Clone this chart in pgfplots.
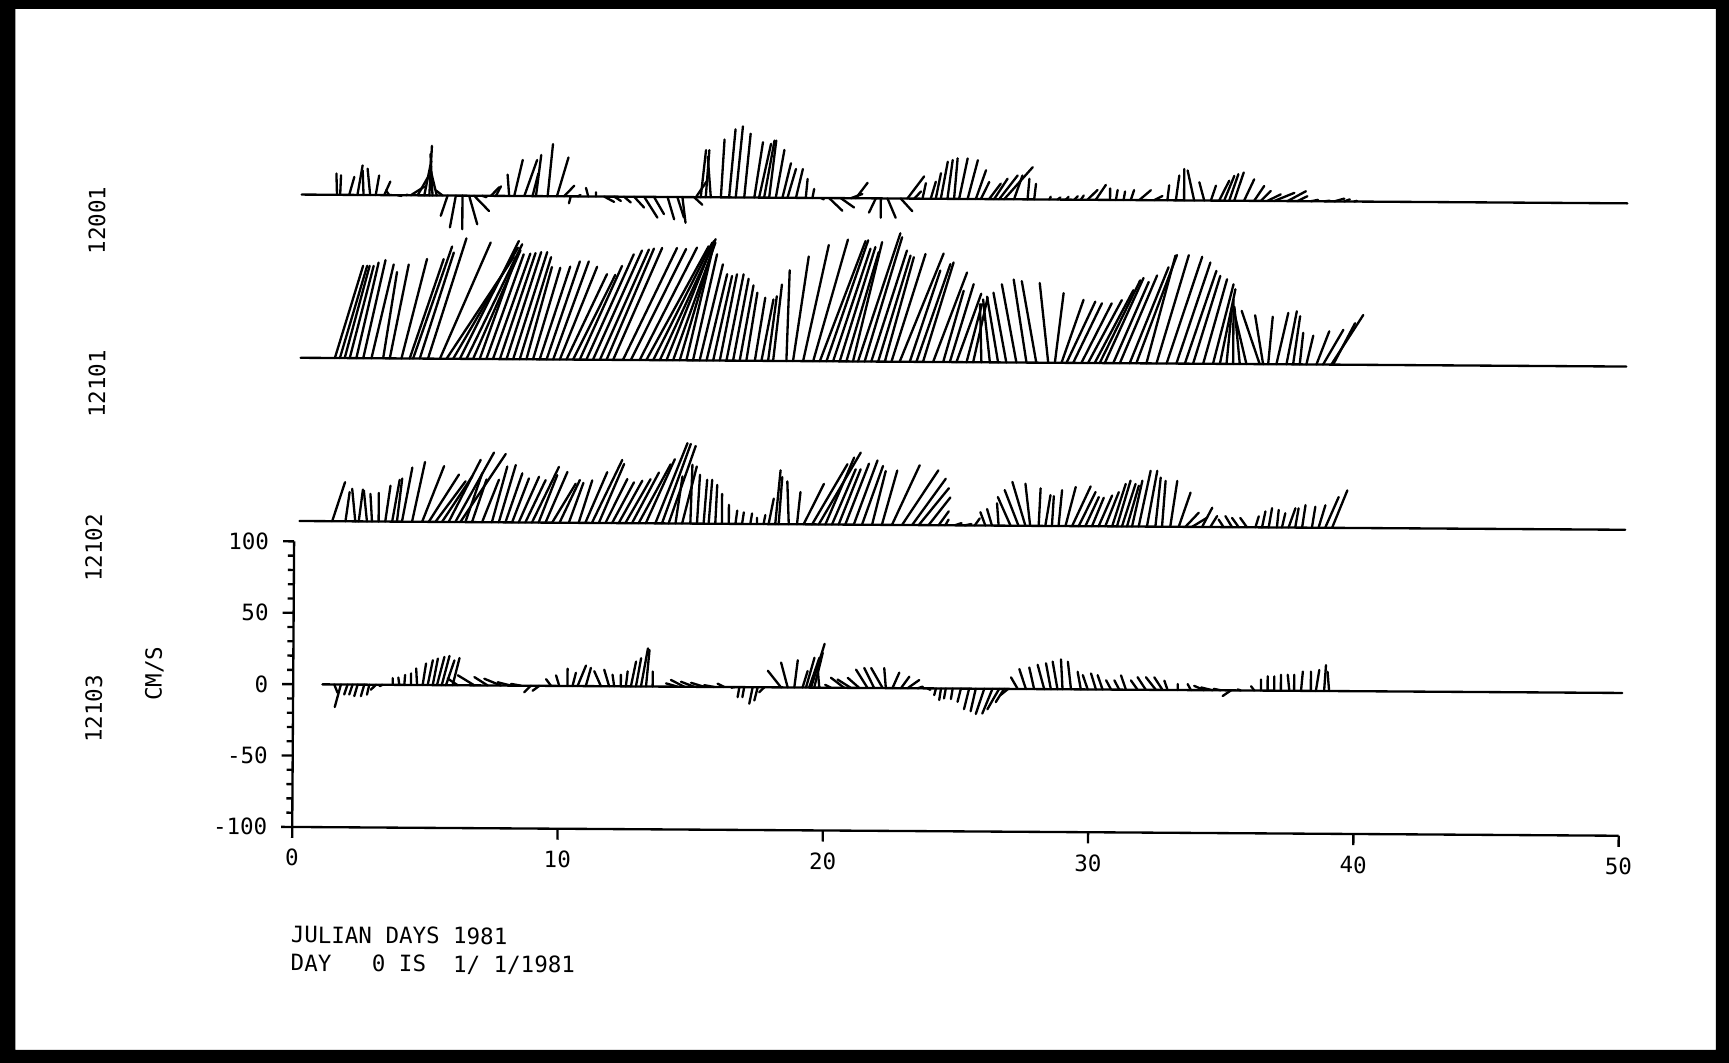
\documentclass[border=0pt]{standalone}
\usepackage{pgfplots}
\pgfplotsset{compat=1.18}
\usepackage{pgfplotstable}
\usepackage{fontspec}
\newfontfamily\plotfont{DejaVu Sans Mono}
\newcommand\pf{\plotfont\fontsize{5.8}{7}\selectfont}

% station 12001 : t (day), u (cm/s east), v (cm/s north)
\pgfplotstableread{
t u v
1.53 -0.5 14.9
1.65 0.5 13.7
1.99 3.5 12.6
2.30 3.5 20.7
2.53 -0.7 17.2
2.78 -1.9 18.4
2.99 2.3 13.7
3.31 4.2 9.5
3.50 -2.3 3.3
3.81 2.8 -0.5
4.13 1.0 0.5
4.31 9.3 6.0
4.57 7.0 12.6
4.82 4.7 24.0
5.01 1.6 34.7
5.13 -1.6 29.0
5.29 -4.2 17.0
5.51 -4.7 3.5
5.70 -4.7 -14.2
6.01 -4.0 -22.3
6.26 0.0 -23.5
6.51 5.8 -20.0
6.70 10.5 -10.7
7.00 3.0 -1.0
7.33 5.8 6.0
7.52 3.5 6.7
8.02 -1.2 14.9
8.21 5.8 25.3
8.59 8.8 25.3
8.90 4.0 16.0
9.03 3.5 28.8
9.47 3.5 36.5
9.82 7.9 27.2
10.09 7.0 7.4
10.34 -1.2 -4.9
10.60 2.0 1.0
11.00 -1.6 6.0
11.29 0.0 3.0
11.60 7.0 -3.7
11.98 4.7 -3.0
12.35 4.7 -4.0
12.73 7.0 -7.5
13.11 9.3 -14.5
13.48 7.0 -12.0
13.99 4.7 -15.6
14.36 4.7 -14.4
14.55 2.3 -18.0
14.99 5.8 -5.3
15.06 8.0 12.0
15.24 3.5 33.0
15.43 2.3 33.0
15.62 -2.3 28.4
16.00 2.3 40.5
16.31 4.2 47.7
16.56 4.7 49.8
16.88 4.2 44.7
17.26 5.8 38.8
17.44 8.1 37.7
17.63 7.0 40.0
17.82 4.7 40.0
18.07 5.8 33.5
18.32 5.8 24.2
18.51 5.8 20.2
18.83 4.7 20.2
19.20 1.2 13.3
19.45 1.2 6.3
19.77 2.0 -1.0
20.08 9.3 -8.8
20.52 9.3 -6.5
20.90 8.0 3.0
21.09 8.1 10.9
21.84 -4.7 -10.0
22.03 0.0 -13.5
22.28 5.8 -13.5
22.78 8.1 -8.8
23.03 11.6 15.6
23.29 4.7 5.1
23.60 2.3 10.9
23.91 3.5 12.0
24.10 3.5 17.9
24.29 4.7 26.0
24.54 3.5 27.2
24.79 2.3 28.4
24.98 5.8 28.4
25.30 7.0 27.2
25.61 7.0 20.2
25.80 5.8 12.0
26.11 8.1 10.9
26.30 9.3 14.4
26.49 12.8 16.7
26.68 19.8 22.6
27.05 5.8 16.7
27.56 1.2 14.4
27.81 1.2 10.9
28.38 1.0 2.0
28.69 2.0 1.5
29.00 2.0 2.0
29.32 2.5 2.5
29.57 2.0 3.0
29.82 7.0 7.0
30.13 7.0 10.5
30.67 0.0 8.0
30.89 1.2 7.0
31.18 1.0 6.0
31.45 2.3 7.0
31.77 8.1 7.0
32.33 5.8 3.0
32.83 1.2 10.5
33.15 2.3 17.4
33.46 0.0 22.0
33.84 -4.7 21.0
34.22 -3.5 12.8
34.47 3.5 10.5
34.78 7.0 14.0
34.97 7.0 17.4
35.16 6.3 18.6
35.35 6.5 19.8
35.72 7.0 15.1
36.10 7.0 10.5
36.35 7.0 7.0
36.60 9.3 4.7
36.86 14.0 5.8
37.36 12.8 7.0
37.73 7.0 3.5
38.24 5.0 1.0
38.74 4.0 0.5
39.12 7.0 2.0
39.49 4.0 1.5
39.87 2.0 0.5
}\sA

% station 12101
\pgfplotstableread{
t u v
1.49 19.3 64.7
1.68 18.6 64.7
1.86 17.0 64.7
2.05 16.3 64.7
2.30 15.1 67.0
2.56 15.1 68.8
2.87 15.1 65.8
3.31 9.3 60.5
3.56 12.8 65.8
4.00 17.4 69.8
4.31 23.3 69.8
4.44 26.7 78.6
4.69 23.3 74.4
5.00 26.3 84.4
5.45 34.9 81.6
5.70 46.5 71.6
5.95 44.7 78.1
6.20 40.7 82.8
6.45 38.4 80.5
6.70 32.6 76.3
6.95 25.1 71.6
7.20 25.6 73.5
7.45 25.6 74.0
7.71 24.4 74.4
7.96 23.7 75.1
8.21 23.3 75.1
8.46 21.4 71.6
8.71 17.4 64.7
8.96 18.6 64.2
9.21 20.9 65.1
9.47 22.8 68.8
9.72 24.4 68.8
9.97 25.6 65.1
10.22 27.9 60.0
10.47 29.1 59.5
10.72 29.1 65.8
10.97 32.6 74.0
11.22 33.7 76.7
11.48 33.7 77.4
11.73 32.6 78.1
11.98 33.7 78.6
12.35 37.2 78.6
12.65 38.0 78.0
12.98 39.5 79.0
13.23 43.0 80.0
13.49 40.7 82.6
13.74 38.4 85.0
13.99 32.6 83.7
14.24 29.0 82.6
14.49 22.8 79.0
14.74 18.6 81.4
14.99 16.3 74.4
15.24 15.8 67.4
15.50 14.0 60.5
15.75 12.8 59.3
16.00 11.6 60.5
16.25 11.6 60.5
16.50 10.5 57.4
16.75 9.3 52.8
17.00 7.4 47.7
17.32 7.0 44.2
17.57 8.1 43.0
17.82 5.8 45.3
18.01 5.8 53.5
18.51 1.9 63.5
18.76 10.5 73.3
19.14 17.4 81.4
19.52 23.7 85.3
19.77 31.4 84.4
20.02 28.6 84.9
20.27 25.6 79.0
20.52 24.4 80.2
20.77 22.1 76.7
21.02 19.8 83.7
21.21 29.0 90.0
21.46 25.6 87.2
21.71 24.4 77.9
21.97 22.1 74.4
22.22 19.8 73.3
22.47 23.3 75.6
22.78 30.2 76.0
23.16 20.9 64.0
23.41 23.3 68.6
23.66 20.9 69.8
24.04 23.3 62.8
24.42 14.0 50.0
24.67 16.3 54.7
24.92 17.0 48.0
25.30 10.5 40.7
25.55 9.8 45.3
25.86 -1.2 40.7
26.18 -5.0 44.0
26.49 -8.0 46.0
26.80 -9.3 48.8
27.18 -10.5 54.7
27.56 -9.3 58.1
27.93 -10.5 57.0
28.38 -6.3 55.8
28.63 5.8 48.8
28.88 15.1 44.2
29.07 19.8 43.0
29.32 19.8 41.9
29.63 20.9 41.9
29.88 23.3 44.2
30.13 26.7 51.2
30.32 27.9 58.1
30.51 26.7 59.8
30.83 24.4 57.0
31.08 25.6 61.6
31.45 26.7 67.4
31.70 27.9 76.0
32.08 19.8 75.6
32.46 22.1 76.0
32.84 24.4 74.9
33.21 23.3 70.9
33.53 21.6 65.1
33.84 18.6 61.6
34.22 16.3 59.3
34.59 14.0 55.8
34.85 10.5 52.3
35.10 3.5 38.4
35.35 0.0 45.0
35.60 -4.0 40.0
35.85 -9.3 38.4
36.35 -12.8 37.2
36.48 -5.8 34.2
36.67 3.0 33.3
36.98 8.1 36.0
37.36 7.0 37.2
37.61 4.7 33.7
37.86 2.3 22.1
38.11 4.7 20.2
38.49 8.8 23.3
38.74 14.0 24.4
39.05 22.1 34.9
39.12 15.1 29.1
}\sB

% station 12102
\pgfplotstableread{
t u v
1.43 8.8 27.4
1.93 2.8 20.5
2.30 -2.3 22.8
2.43 2.8 22.3
2.74 -2.3 21.6
2.93 -1.2 19.3
3.18 0.0 20.0
3.43 3.5 25.1
3.69 5.1 29.3
3.87 3.5 30.2
4.06 7.0 37.9
4.44 8.8 41.9
4.82 15.1 39.1
5.07 20.9 33.3
5.32 20.9 28.6
5.57 20.9 32.1
5.82 22.1 43.7
6.07 26.7 48.8
6.26 31.4 47.9
6.45 11.6 34.4
6.70 10.0 30.0
7.08 11.6 29.8
7.45 10.5 39.1
7.71 11.6 40.2
7.96 11.6 34.4
8.21 11.6 30.9
8.46 14.0 32.1
8.71 14.0 29.8
8.96 18.6 39.1
9.21 12.8 33.3
9.47 15.1 35.6
9.72 16.3 27.4
10.00 14.0 30.0
10.35 10.0 28.0
10.72 9.3 29.8
10.97 15.1 35.6
11.22 20.9 44.2
11.48 17.4 41.4
11.73 15.1 30.9
11.98 15.1 28.6
12.23 16.3 29.8
12.48 17.4 30.9
12.73 18.6 35.6
12.98 22.1 41.4
13.25 20.0 45.0
13.61 22.1 56.3
13.86 19.8 55.8
14.11 18.6 54.4
14.37 4.7 33.0
14.62 10.0 40.0
14.93 1.2 41.2
15.18 1.9 34.2
15.43 2.3 30.7
15.62 2.3 30.7
15.87 1.2 27.2
16.12 0.0 20.9
16.38 0.0 13.3
16.63 1.2 9.3
16.88 1.2 8.1
17.19 1.2 7.4
17.44 0.0 4.4
17.69 1.2 6.3
17.88 3.5 17.9
18.13 3.5 37.7
18.26 2.3 33.0
18.64 -1.2 30.0
18.95 2.3 22.6
19.20 14.0 28.4
19.52 24.4 42.3
19.77 29.0 50.5
20.02 19.8 47.0
20.27 16.3 38.8
20.52 15.1 38.8
20.77 16.3 42.8
21.09 16.3 45.1
21.40 14.4 41.2
21.78 9.3 37.7
22.15 10.5 38.1
22.53 19.1 41.9
22.91 25.1 38.4
23.29 23.3 32.6
23.54 20.9 26.0
23.91 15.1 19.5
24.29 7.0 9.8
24.54 2.3 4.0
24.90 4.7 1.6
25.27 4.7 1.0
25.65 3.5 5.0
26.05 -3.5 9.3
26.30 -3.5 11.6
26.55 -1.2 15.6
27.00 -9.0 20.0
27.30 -9.8 24.9
27.56 -9.3 30.7
27.74 -3.5 29.5
28.06 1.2 26.3
28.31 3.5 21.6
28.56 1.2 20.9
28.81 2.3 25.1
29.07 7.0 27.4
29.32 12.8 27.9
29.57 11.6 24.0
29.82 9.3 20.5
30.07 8.1 20.0
30.32 9.3 21.6
30.57 9.3 24.0
30.83 9.3 29.8
31.01 9.3 32.1
31.20 9.3 29.8
31.39 8.1 28.6
31.58 7.0 32.1
31.83 8.1 39.1
32.14 7.0 39.1
32.46 3.5 34.4
32.71 2.3 32.1
33.02 4.7 32.1
33.34 8.1 24.0
33.59 9.3 10.0
33.84 10.5 6.5
34.22 7.0 13.5
34.53 4.7 7.7
35.03 -3.5 5.3
35.35 -4.7 7.7
35.60 -4.7 6.5
35.91 -4.7 6.5
36.23 2.3 7.7
36.48 2.3 11.2
36.73 2.3 13.5
37.04 1.2 12.3
37.23 2.3 10.0
37.48 4.7 13.5
37.73 2.3 13.5
37.99 2.3 15.8
38.36 2.3 14.7
38.61 4.7 15.8
38.86 9.3 21.6
39.12 10.5 26.3
}\sC

% station 12103
\pgfplotstableread{
t u v
1.55 2.3 -5.8
1.80 -4.2 -15.8
2.05 -2.3 -7.0
2.24 -2.3 -7.0
2.43 -2.3 -8.1
2.68 -2.3 -8.1
2.87 -1.6 -7.0
3.12 -3.5 -3.5
3.37 -2.0 -1.0
3.75 0.0 4.7
4.00 -0.7 5.1
4.19 0.5 7.0
4.44 0.0 8.1
4.67 -0.7 11.6
4.88 2.3 15.1
5.07 3.5 17.4
5.26 3.5 18.6
5.42 5.1 19.8
5.60 5.3 20.5
5.76 5.8 17.4
6.01 4.7 19.1
6.20 -7.0 4.7
6.83 -11.6 7.0
7.33 -9.3 5.8
7.83 -11.6 4.7
8.21 -9.3 2.3
8.59 -7.0 1.2
8.96 -4.7 -4.7
9.28 -4.7 -3.5
9.72 -3.5 4.7
10.03 -2.3 7.4
10.34 0.0 12.1
10.53 2.3 9.3
10.72 5.8 14.4
11.03 3.5 12.8
11.60 -4.7 10.5
11.91 -3.5 11.6
12.10 -1.2 8.1
12.35 0.0 8.1
12.54 1.2 10.5
12.73 3.5 17.4
12.92 3.5 19.8
13.11 4.7 26.7
13.30 2.3 25.6
13.55 0.0 10.5
14.49 -8.1 2.3
14.74 -9.3 4.7
15.12 -9.3 3.5
15.50 -9.3 2.8
15.87 -7.0 1.2
16.25 -4.7 2.3
16.63 -2.0 -0.5
16.82 -1.2 -7.0
17.00 -1.2 -7.0
17.32 -2.3 -11.6
17.51 -2.3 -9.3
17.76 -3.5 -3.5
18.39 -9.3 11.6
18.64 -4.7 17.4
18.89 2.3 19.1
19.20 3.5 11.6
19.33 5.8 20.9
19.45 7.0 20.9
19.52 9.3 30.7
19.64 5.8 24.4
19.83 -1.2 14.0
20.27 -4.0 2.0
20.77 -9.3 7.0
21.02 -9.3 5.8
21.34 -8.1 7.0
21.65 -8.1 12.8
21.90 -7.0 14.0
22.22 -8.1 14.0
22.34 -1.2 14.0
22.59 4.7 10.9
22.91 5.8 8.1
23.16 8.1 5.8
23.54 3.5 1.2
23.91 2.0 -1.0
24.23 -1.2 -4.7
24.42 -1.2 -8.1
24.60 -1.2 -7.0
24.86 -1.2 -7.4
25.17 -2.3 -9.3
25.48 -3.5 -14.4
25.73 -3.5 -15.8
26.05 -5.8 -17.7
26.36 -7.0 -17.4
26.61 -8.1 -14.4
26.80 -5.8 -9.3
26.95 -5.1 -4.2
27.31 -4.7 8.1
27.62 -4.7 14.0
27.93 -3.5 15.1
28.31 -4.7 17.0
28.56 -3.5 18.1
28.81 -3.5 19.3
29.00 -1.2 20.9
29.32 -2.3 19.3
29.69 -2.3 12.3
29.95 -3.5 10.0
30.26 -3.5 11.2
30.51 -3.5 10.0
30.83 -3.5 6.5
31.14 -3.5 6.5
31.39 -3.5 10.0
31.83 -4.7 6.5
32.14 -5.8 8.8
32.52 -7.0 8.8
32.77 -5.8 8.8
32.96 -2.3 6.5
33.34 0.0 4.2
33.84 -2.3 4.2
34.34 -7.0 3.0
34.66 -8.1 1.9
34.97 -5.0 1.0
35.35 -5.8 -4.0
35.72 -2.3 0.7
36.23 -2.3 3.0
36.48 0.0 7.7
36.73 0.0 10.0
36.98 0.0 10.0
37.23 0.0 11.2
37.55 -1.2 11.2
37.73 0.0 11.2
37.99 1.2 13.5
38.36 0.0 13.5
38.55 2.3 14.7
38.86 1.2 18.1
39.05 -1.2 13.5
}\sD

\begin{document}
\begin{tikzpicture}
\useasboundingbox (0,0) rectangle (156.8mm,96.4mm);
\fill[black,even odd rule] (0,0) rectangle (156.8mm,96.4mm) (1.4mm,1.2mm) rectangle (155.6mm,95.6mm);
\begin{scope}[transform canvas={rotate=-0.38}]
\begin{axis}[
  at={(26.36mm,21.58mm)}, anchor=south west,
  scale only axis, width=120.3mm, height=25.9mm,
  xmin=0, xmax=50, ymin=-100, ymax=100,
  axis x line*=bottom, axis y line*=left,
  axis line style={-, line width=0.6pt},
  clip=false,
  xtick={0,10,20,30,40,50}, xticklabels={0,10,20,30,40,50},
  ytick={-100,-50,0,50,100}, yticklabels={-100,-50,0,50,100},
  minor y tick num=4,
  tick align=outside,
  major tick length=1mm, minor tick length=0.55mm,
  tick style={black, line width=0.6pt},
  xticklabel style={font=\pf, anchor=center, inner sep=0pt, yshift=-1.8mm},
  yticklabel style={font=\pf, anchor=east, inner sep=0pt, xshift=-1.2mm},
  every axis plot/.append style={line cap=round},
]
% baselines
\addplot[black, line width=0.6pt] coordinates {(0.2,342.9) (50.17,342.9)};
\addplot[black, line width=0.6pt] coordinates {(0.2,228.6) (50.17,228.6)};
\addplot[black, line width=0.6pt] coordinates {(0.2,114.3) (50.17,114.3)};
\addplot[black, line width=0.6pt] coordinates {(1.1,0) (50.1,0)};
% current sticks
\addplot[black, line width=0.6pt, quiver={u=\thisrow{u}*0.054, v=\thisrow{v}}] table[x=t, y expr=342.9] {\sA};
\addplot[black, line width=0.6pt, quiver={u=\thisrow{u}*0.054, v=\thisrow{v}}] table[x=t, y expr=228.6] {\sB};
\addplot[black, line width=0.6pt, quiver={u=\thisrow{u}*0.054, v=\thisrow{v}}] table[x=t, y expr=114.3] {\sC};
\addplot[black, line width=0.6pt, quiver={u=\thisrow{u}*0.054, v=\thisrow{v}}] table[x=t, y expr=0] {\sD};
\end{axis}
\node[font=\pf, rotate=90] at (8.29mm,76.46mm) {12001};
\node[font=\pf, rotate=90] at (8.39mm,61.66mm) {12101};
\node[font=\pf, rotate=90] at (8.19mm,46.76mm) {12102};
\node[font=\pf, rotate=90] at (8.29mm,32.16mm) {12103};
\node[font=\pf, rotate=90] at (13.77mm,35.39mm) {CM/S};
\node[font=\pf, anchor=base west, inner sep=0pt] at (26.23mm,11.07mm) {JULIAN~DAYS~1981};
\node[font=\pf, anchor=base west, inner sep=0pt] at (26.24mm,8.52mm) {DAY~~~0~IS~~1/~1/1981};
\end{scope}
\end{tikzpicture}
\end{document}
